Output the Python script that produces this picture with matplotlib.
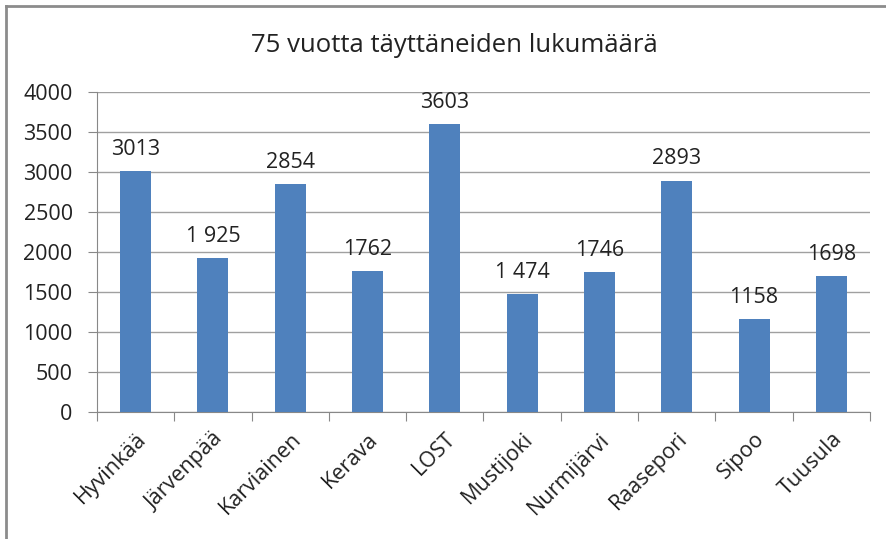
import numpy as np
import matplotlib.pyplot as plt
from matplotlib.lines import Line2D

# Data
kunnat = ["Hyvinkää", "Järvenpää", "Karviainen", "Kerava", "LOST",
          "Mustijoki", "Nurmijärvi", "Raasepori", "Sipoo", "Tuusula"]
lukumaara = [3013, 1925, 2854, 1762, 3603, 1474, 1746, 2893, 1158, 1698]
tekstit = ["3013", "1 925", "2854", "1762", "3603", "1 474", "1746", "2893", "1158", "1698"]

plt.rcParams['font.family'] = ['Open Sans', 'DejaVu Sans']

fig = plt.figure(figsize=(8.87, 5.39), dpi=100)
ax = fig.add_axes([97/887, 1 - 412/539, (870 - 97)/887, (412 - 92)/539])

x = np.arange(len(kunnat))
ax.bar(x, lukumaara, width=0.4, color="#4F81BD", zorder=3)

# value labels above bars
for xi, val, txt in zip(x, lukumaara, tekstit):
    ax.annotate(txt, (xi, val), xytext=(0, 8), textcoords="offset points",
                ha="center", va="bottom", fontsize=15.5, color="#222222")

ax.set_xlim(-0.5, len(kunnat) - 0.5)
ax.set_ylim(0, 4000)
ax.set_yticks(np.arange(0, 4001, 500))
ax.tick_params(axis="y", labelsize=15.5, length=6.5, color="#888888", pad=11,
               labelcolor="#222222")

# category ticks sit on the boundaries, labels at centers
ax.set_xticks(np.arange(-0.5, len(kunnat)), minor=False)
ax.set_xticklabels([""] * (len(kunnat) + 1))
ax.tick_params(axis="x", length=6.5, color="#888888")
ax.set_xticks(x, minor=True)
ax.set_xticklabels(kunnat, minor=True, rotation=45, ha="right",
                   rotation_mode="anchor", fontsize=15.5, color="#222222")
ax.tick_params(axis="x", which="minor", length=0, pad=12)

ax.grid(axis="y", color="#A0A0A0", linewidth=1, zorder=0)
for s in ["top", "right"]:
    ax.spines[s].set_visible(False)
ax.spines["left"].set_color("#888888")
ax.spines["bottom"].set_color("#888888")

fig.text(454/887, 1 - 45/539, "75 vuotta täyttäneiden lukumäärä", fontsize=18.5,
         ha="center", va="center", color="#222222")

# outer chart frame (only top and left edges visible in the crop)
fig.add_artist(Line2D([6/887, 6/887], [0, 1 - 6/539], transform=fig.transFigure,
                      color="#8C8C8C", linewidth=2))
fig.add_artist(Line2D([6/887, 1], [1 - 6/539, 1 - 6/539], transform=fig.transFigure,
                      color="#8C8C8C", linewidth=2))

fig.savefig("out.png", dpi=100)
